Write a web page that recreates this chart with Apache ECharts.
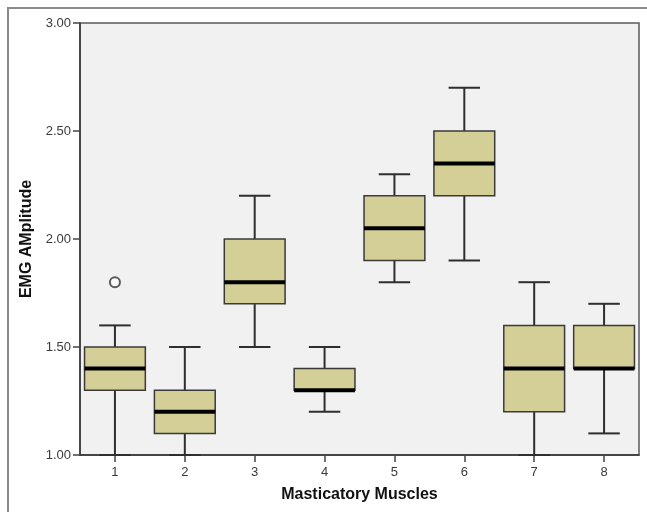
<!DOCTYPE html>
<html>
<head>
<meta charset="utf-8">
<script src="https://cdn.jsdelivr.net/npm/echarts@6/dist/echarts.min.js"></script>
<style>html,body{margin:0;padding:0;background:#fff;}#c{width:647px;height:512px;}</style>
</head>
<body>
<div id="c"></div>
<script>
var categories = ['1','2','3','4','5','6','7','8'];
var lowerWhisker = [1.00, 1.00, 1.50, 1.20, 1.80, 1.90, 1.00, 1.10];
var q1           = [1.30, 1.10, 1.70, 1.30, 1.90, 2.20, 1.20, 1.40];
var median       = [1.40, 1.20, 1.80, 1.30, 2.05, 2.35, 1.40, 1.40];
var q3           = [1.50, 1.30, 2.00, 1.40, 2.20, 2.50, 1.60, 1.60];
var upperWhisker = [1.60, 1.50, 2.20, 1.50, 2.30, 2.70, 1.80, 1.70];
var outliers = [[0, 1.80]];
var yTicks = [1.00, 1.50, 2.00, 2.50, 3.00];

var boxData = categories.map(function(c, i){
  return [i, lowerWhisker[i], q1[i], median[i], q3[i], upperWhisker[i]];
});

var chart = echarts.init(document.getElementById('c'), null, {renderer:'canvas'});
var fontFam = '"Liberation Sans", Arial, sans-serif';

chart.setOption({
  animation: false,
  backgroundColor: '#ffffff',
  graphic: [{
    type: 'polyline',
    shape: {points: [[8,512],[8,8],[647,8]]},
    style: {stroke: '#8a8a8a', lineWidth: 2, fill: null},
    z: 100
  }],
  grid: {
    left: 80, top: 23, right: 8, bottom: 57,
    show: true, backgroundColor: '#f1f1f1', borderColor: '#5a5a5a', borderWidth: 1.5
  },
  xAxis: {
    type: 'category',
    data: categories,
    boundaryGap: true,
    name: 'Masticatory Muscles',
    nameLocation: 'middle',
    nameGap: 32,
    nameTextStyle: {fontFamily: fontFam, fontSize: 16, fontWeight: 'bold', color: '#111'},
    axisLine: {lineStyle: {color: '#333', width: 1.5}},
    axisTick: {show: true, alignWithLabel: true, length: 7, lineStyle: {color: '#444', width: 1.5}},
    axisLabel: {fontFamily: fontFam, fontSize: 13, color: '#3a3a3a', margin: 11},
    splitLine: {show: false}
  },
  yAxis: {
    type: 'value',
    min: 1, max: 3, interval: 0.5,
    name: 'EMG AMplitude',
    nameLocation: 'middle',
    nameGap: 42,
    nameRotate: 90,
    nameTextStyle: {fontFamily: fontFam, fontSize: 16, fontWeight: 'bold', color: '#111'},
    axisLine: {show: true, lineStyle: {color: '#333', width: 1.5}},
    axisTick: {show: true, length: 7, lineStyle: {color: '#444', width: 1.5}},
    axisLabel: {fontFamily: fontFam, fontSize: 13, color: '#3a3a3a', margin: 9,
      formatter: function(v){ return v.toFixed(2); }},
    splitLine: {show: false}
  },
  series: [{
    type: 'custom',
    data: boxData,
    encode: {x: 0, y: [1,2,3,4,5]},
    renderItem: function(params, api){
      var x = api.value(0);
      var band = api.size([1, 0])[0];
      var bw = band * 0.87;
      var cw = band * 0.45;
      var pLo = api.coord([x, api.value(1)]);
      var pQ1 = api.coord([x, api.value(2)]);
      var pMed = api.coord([x, api.value(3)]);
      var pQ3 = api.coord([x, api.value(4)]);
      var pHi = api.coord([x, api.value(5)]);
      var cx = pLo[0];
      var lineStyle = {stroke: '#2e2e2e', lineWidth: 2};
      return {
        type: 'group',
        children: [
          {type: 'line', shape: {x1: cx, y1: pQ1[1], x2: cx, y2: pLo[1]}, style: lineStyle},
          {type: 'line', shape: {x1: cx, y1: pQ3[1], x2: cx, y2: pHi[1]}, style: lineStyle},
          {type: 'line', shape: {x1: cx - cw/2, y1: pLo[1], x2: cx + cw/2, y2: pLo[1]}, style: lineStyle},
          {type: 'line', shape: {x1: cx - cw/2, y1: pHi[1], x2: cx + cw/2, y2: pHi[1]}, style: lineStyle},
          {type: 'rect', shape: {x: cx - bw/2, y: pQ3[1], width: bw, height: pQ1[1] - pQ3[1]},
            style: {fill: '#d4cf96', stroke: '#3a3a3a', lineWidth: 1.5}},
          {type: 'line', shape: {x1: cx - bw/2, y1: pMed[1], x2: cx + bw/2, y2: pMed[1]},
            style: {stroke: '#000', lineWidth: 4}}
        ]
      };
    },
    z: 3
  }, {
    type: 'scatter',
    data: outliers,
    symbol: 'emptyCircle',
    symbolSize: 10,
    itemStyle: {color: '#333', borderColor: '#333', borderWidth: 2},
    z: 4
  }]
});
</script>
</body>
</html>
